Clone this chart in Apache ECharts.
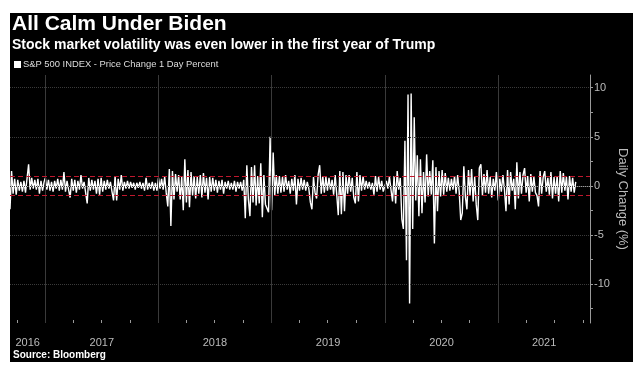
<!DOCTYPE html>
<html>
<head>
<meta charset="utf-8">
<script src="https://cdn.jsdelivr.net/npm/echarts@6/dist/echarts.min.js"></script>
<style>
html, body { margin: 0; padding: 0; background: #fff; }
#chart { position: absolute; left: 10px; top: 13px; width: 623px; height: 349px; background: #000; }
</style>
</head>
<body>
<div id="chart"></div>
<script>
// S&P 500 daily change (%), one reading every 5 days (alternating highs / lows of the period)
var stepDays = 5;
var yearStarts = ['2016-09-09', '2017-01-01', '2018-01-01', '2019-01-01', '2020-01-01', '2021-01-01'];

var v2016 = [-2.4, 1.5, -0.8, 0.7, -0.9, 0.6, -0.5, 0.4, -0.6, 0.5, -0.7, -0.5, 2.2, -0.4, 0.8, -0.3,
  0.6, -0.4, 0.7, -0.8, 0.5, -0.5, 0.4];
var v2017 = [0.8, -0.4, 0.6, -0.5, 0.4, -0.6, 0.5, -0.3, 0.7, -0.5, 0.6, -0.4, 1.4, -0.6, 0.5, -0.4,
  -1.2, 0.7, -0.5, 0.6, -0.7, 0.5, -0.4, 1.1, -0.3, 0.4, 0.3, -1.8, 0.8, -0.5, 0.6, -0.4,
  0.5, -0.8, 0.7, -0.9, 0.8, -0.6, 0.5, -0.4, 0.6, -0.3, 0.4, -0.6, -1.5, 1.0, -1.5, 0.7,
  -0.4, 1.1, -0.5, 0.4, -0.3, 0.5, -0.3, 0.4, -0.2, 0.3, -0.4, 0.3, -0.2, 0.4, -0.3, 0.3,
  -0.5, 0.8, -0.4, 0.3, -0.3, 0.4, -0.5, 0.3, -0.5];
var v2018 = [0.8, -0.3, 0.7, -0.4, 0.9, -0.7, -2.1, 1.7, -4.1, 1.5, -1.4, 1.2, -0.6, 1.1, -1.4, 0.9,
  -2.5, 2.7, -1.7, 1.6, -2.2, 1.4, -1.0, 1.0, -1.3, 0.9, -0.8, 1.1, -1.2, 1.3, -0.7, 0.8,
  -1.4, 0.9, -0.6, 0.8, -0.5, 0.6, -0.7, 0.5, -0.4, 0.6, -0.8, 0.4, -0.3, 0.5, -0.4, 0.3,
  -0.4, 0.5, -0.6, 0.4, -0.3, 0.4, -0.5, 0.6, -3.3, 2.1, -1.4, -3.1, 1.9, -1.7, 2.1, -2.0,
  1.0, -1.8, 2.3, -3.2, 1.1, -1.9, -2.1, -2.7, 5.0];
var v2019 = [-2.5, 3.4, -1.0, 1.1, -0.8, 1.0, -0.7, 0.9, -0.6, 1.1, -0.4, 0.5, -0.8, 0.7, -0.5, 1.1,
  -1.9, 0.7, -0.5, 0.8, -0.4, 0.6, -0.5, 0.4, -0.3, -1.7, -2.4, 0.9, -0.7, -1.3, 1.1, 2.1,
  -0.8, 1.0, -0.7, 0.9, -0.5, 0.8, -0.4, 0.6, -0.9, 1.1, -0.9, -3.0, 1.5, -2.9, 1.4, -2.6,
  1.1, -0.8, 1.1, -0.6, 0.8, -1.2, -1.8, 1.4, -1.6, 1.1, -0.5, 1.0, -0.4, 0.5, -0.3, 0.4,
  -0.4, 0.3, -0.9, 1.0, -0.6, 0.9, -0.4, 0.5, -0.6];
var v2020 = [-0.7, 0.5, -0.3, 0.9, -0.4, -1.6, 1.0, -1.8, 1.5, -0.4, 0.8, -3.4, -4.4, 4.6, -7.6, 9.3,
  -12.0, 9.4, -4.4, 7.0, -1.5, 3.1, -3.1, 2.7, -2.8, 1.4, -1.7, 3.2, -1.1, 1.5, -0.9, 2.6,
  -5.9, 1.9, -2.6, 1.5, -1.1, 1.6, -0.9, 1.3, -0.6, 0.8, -0.5, 0.7, -0.4, 1.0, -0.8, 1.1,
  -0.6, -3.5, -2.8, 2.0, -1.1, -2.4, 1.6, -1.0, 1.7, -1.6, 0.9, -1.9, -3.5, 1.8, 2.2, -1.0,
  1.2, -0.7, 1.6, -0.8, 0.9, -1.2, 0.7, -0.5, 1.4];
var v2021 = [-1.5, 0.7, -0.6, 1.1, -0.4, -2.6, 1.6, -1.9, 1.4, -0.5, 0.7, -2.4, 2.4, -1.3, 1.4, -0.8,
  1.1, 1.8, -0.7, 1.0, -1.6, 1.2, -0.6, 0.9, -0.7, -1.0, -2.1, 1.5, -0.8, 0.9, 1.5, -0.6,
  0.8, -0.9, 1.4, -1.3, 0.9, -0.8, 1.0, -1.6, 1.5, -0.7, 1.3, -0.5, 0.9, -1.4, 1.0, -0.6,
  0.8, -0.7, 0.4];

var axisMin = '2016-09-09';
var axisMax = '2021-10-24';
var yearTicks = ['2017-01-01', '2018-01-01', '2019-01-01', '2020-01-01', '2021-01-01'];
var quarterTicks = ['2016-10-01', '2017-04-01', '2017-07-01', '2017-10-01', '2018-04-01', '2018-07-01',
  '2018-10-01', '2019-04-01', '2019-07-01', '2019-10-01', '2020-04-01', '2020-07-01', '2020-10-01',
  '2021-04-01', '2021-07-01', '2021-10-01'];
var yearLabelDates = ['2016-11-05', '2017-07-02', '2018-07-02', '2019-07-02', '2020-07-02', '2021-05-29'];
var yLabels = [-10, -5, 0, 5, 10];
var yTickMarks = [-12.5, -10, -7.5, -5, -2.5, 0, 2.5, 5, 7.5, 10];
var gridLevels = [-10, -5, 0, 5, 10];
var bandLevels = [1, -1];
var seriesName = 'S&P 500 INDEX - Price Change 1 Day Percent';

function t(s) { return new Date(s + 'T00:00:00').getTime(); }

var points = [];
[v2016, v2017, v2018, v2019, v2020, v2021].forEach(function (vals, k) {
  var start = t(yearStarts[k]);
  vals.forEach(function (v, i) {
    points.push([start + i * stepDays * 86400000, v]);
  });
});

var font = '"Liberation Sans", Arial, sans-serif';
var chart = echarts.init(document.getElementById('chart'));

chart.setOption({
  animation: false,
  textStyle: { fontFamily: font },
  title: [{
    text: 'All Calm Under Biden',
    left: 2, top: 1, padding: 0,
    textStyle: { color: '#fff', fontSize: 21, fontWeight: 'bold', fontFamily: font }
  }, {
    text: 'Stock market volatility was even lower in the first year of Trump',
    left: 2, top: 25, padding: 0,
    textStyle: { color: '#fff', fontSize: 14, fontWeight: 'bold', fontFamily: font }
  }],
  legend: {
    data: [seriesName],
    left: 4, top: 47, padding: 0, itemGap: 0,
    icon: 'rect', itemWidth: 7, itemHeight: 7,
    textStyle: { color: '#ddd', fontSize: 9.4, fontFamily: font, padding: [0, 0, 0, -3] }
  },
  graphic: [{
    type: 'text', left: 3, top: 337,
    style: { text: 'Source: Bloomberg', fill: '#fff', font: 'bold 10px ' + font }
  }],
  grid: { left: 0, right: 43, top: 62, bottom: 39, outerBoundsMode: 'none', containLabel: false },
  xAxis: [{
    type: 'value', min: t(axisMin), max: t(axisMax),
    axisLine: { show: true, lineStyle: { color: '#9a9a9a', width: 1 } },
    axisTick: { show: true, length: 27, customValues: yearTicks.map(t), lineStyle: { color: '#5a5a5a' } },
    axisLabel: { show: false },
    splitLine: { show: false }
  }, {
    type: 'value', position: 'bottom', min: t(axisMin), max: t(axisMax),
    axisLine: { show: false },
    axisTick: { show: true, inside: true, length: 3, customValues: quarterTicks.map(t), lineStyle: { color: '#9a9a9a' } },
    axisLabel: {
      customValues: yearLabelDates.map(t),
      formatter: function (v) { return String(new Date(v).getFullYear()); },
      color: '#bbb', fontSize: 11, margin: 14
    },
    splitLine: { show: false }
  }],
  yAxis: {
    type: 'value', position: 'right', min: -14, max: 11.3,
    axisLine: { show: true, lineStyle: { color: '#9a9a9a' } },
    axisTick: { show: true, length: 3, customValues: yTickMarks, lineStyle: { color: '#9a9a9a' } },
    axisLabel: { customValues: yLabels, color: '#bbb', fontSize: 11, margin: 4 },
    splitLine: { show: false },
    name: 'Daily Change (%)', nameLocation: 'middle', nameRotate: -90, nameGap: 26,
    nameMoveOverlap: false,
    nameTextStyle: { color: '#bbb', fontSize: 13 }
  },
  series: [{
    name: 'grid', type: 'line', data: [], z: 1, silent: true,
    markLine: {
      silent: true, symbol: 'none', label: { show: false },
      data: gridLevels.map(function (y) {
        return { yAxis: y, lineStyle: { color: '#3a3a3a', type: 'dotted', width: 1 } };
      }).concat(yearTicks.map(function (d) {
        return { xAxis: t(d), lineStyle: { color: '#3a3a3a', type: 'solid', width: 1 } };
      }))
    }
  }, {
    name: seriesName, type: 'line', data: points, z: 3,
    symbol: 'none', showSymbol: false,
    lineStyle: { color: '#fff', width: 1.4 },
    itemStyle: { color: '#fff' },
    markLine: {
      silent: true, symbol: 'none', label: { show: false },
      lineStyle: { color: '#c0182e', type: [5, 3], width: 1 },
      data: bandLevels.map(function (y) { return { yAxis: y }; })
    }
  }]
});
</script>
</body>
</html>
